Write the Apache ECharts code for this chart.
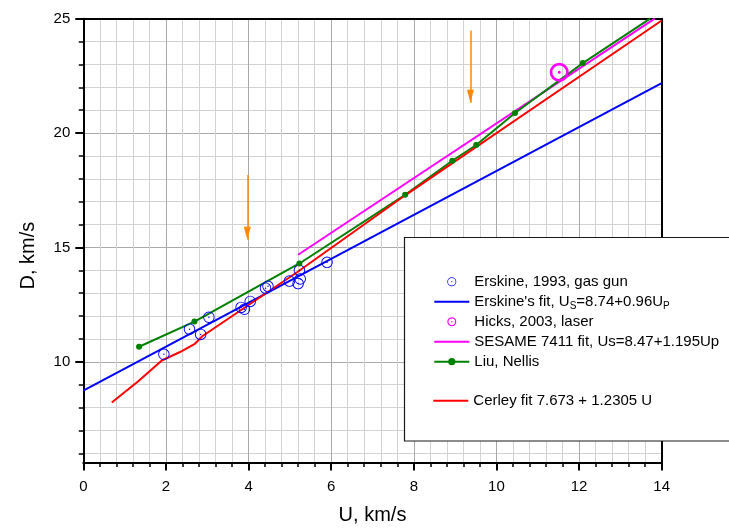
<!DOCTYPE html>
<html>
<head>
<meta charset="utf-8">
<script src="https://cdn.jsdelivr.net/npm/echarts@6/dist/echarts.min.js"></script>
<style>
  html, body { margin: 0; padding: 0; background: #fff; }
  #chart { width: 729px; height: 529px; }
</style>
</head>
<body>
<div id="chart"></div>
<script>
// Shock velocity D versus particle velocity U
const erskineU = [1.95, 2.57, 2.84, 3.04, 3.82, 3.9, 4.04, 4.41, 4.47, 4.99, 5.2, 5.23, 5.25, 5.9];
const erskineD = [10.33, 11.43, 11.2, 11.95, 12.38, 12.3, 12.64, 13.22, 13.3, 13.53, 13.42, 14.0, 13.62, 14.35];

const erskineFitU = [0, 14];
const erskineFitD = [8.74, 22.18];

const hicksU = [11.52];
const hicksD = [22.66];

const sesameU = [5.2, 13.83];
const sesameD = [14.68, 25.0];

const liuU = [1.35, 2.69, 5.23, 7.79, 8.93, 9.51, 10.45, 12.09, 13.72];
const liuD = [10.66, 11.76, 14.3, 17.3, 18.79, 19.48, 20.88, 23.06, 25.0];

const cerleyU = [0.69, 1.33, 1.9, 2.34, 2.7, 2.88, 5.2, 7.79, 14];
const cerleyD = [8.22, 9.15, 10.06, 10.43, 10.79, 11.12, 13.95, 17.28, 24.92];

// orange arrows: x position, tail and tip
const arrowU = [3.97, 9.37];
const arrowTail = [18.17, 24.48];
const arrowTip = [15.34, 21.33];

const xTickLabels = [0, 2, 4, 6, 8, 10, 12, 14];
const yTickLabels = [10, 15, 20, 25];
const yMinorTicks = [6, 7, 8, 9, 10, 11, 12, 13, 14, 15, 16, 17, 18, 19, 20, 21, 22, 23, 24, 25];

const names = {
  erskine: 'Erskine, 1993, gas gun',
  erskineFit: "Erskine's fit, US=8.74+0.96UP",
  hicks: 'Hicks, 2003, laser',
  sesame: 'SESAME 7411 fit, Us=8.47+1.195Up',
  liu: 'Liu, Nellis',
  cerley: 'Cerley fit 7.673 + 1.2305 U'
};

const FONT = '"Liberation Sans", Arial, sans-serif';

const zip = (xs, ys) => xs.map((x, i) => [x, ys[i]]);

// open ring with a centre dot
const ringThin = 'path://M0,10A10,10 0 1,1 20,10A10,10 0 1,1 0,10Z M1.6,10A8.4,8.4 0 1,0 18.4,10A8.4,8.4 0 1,0 1.6,10Z M8.7,10A1.3,1.3 0 1,1 11.3,10A1.3,1.3 0 1,1 8.7,10Z';
const ringThick = 'path://M0,10A10,10 0 1,1 20,10A10,10 0 1,1 0,10Z M2.8,10A7.2,7.2 0 1,0 17.2,10A7.2,7.2 0 1,0 2.8,10Z M8.4,10A1.6,1.6 0 1,1 11.6,10A1.6,1.6 0 1,1 8.4,10Z';
// plain stroke used as the legend key of the fitted lines
const lineKey = 'path://M0,0L35,0L35,2L0,2Z';

const arrowLines = arrowU.map((u, i) => [
  { coord: [u, arrowTail[i]] },
  { coord: [u, arrowTip[i]] }
]);

const chart = echarts.init(document.getElementById('chart'), null, { renderer: 'canvas' });

const legendText = {
  fontFamily: FONT,
  fontSize: 15,
  color: '#000',
  lineHeight: 20,
  rich: {
    m: { fontFamily: FONT, fontSize: 15, lineHeight: 20, color: '#000' },
    s: { fontFamily: FONT, fontSize: 10, lineHeight: 8, verticalAlign: 'bottom', color: '#000' }
  }
};

const option = {
  animation: false,
  backgroundColor: '#fff',
  grid: {
    left: 83.3, right: 67.3, top: 18.7, bottom: 66.5,
    containLabel: false,
    outerBoundsMode: 'none'
  },
  xAxis: [
    {
      type: 'value', position: 'bottom', min: 0, max: 14, interval: 2,
      name: 'U, km/s', nameLocation: 'middle', nameGap: 43,
      nameTextStyle: { fontFamily: FONT, fontSize: 20, color: '#000' },
      axisLine: { show: true, onZero: false, lineStyle: { color: '#000', width: 2 } },
      axisTick: { show: true, inside: false, length: 8, lineStyle: { color: '#000', width: 2 } },
      minorTick: { show: true, splitNumber: 5, length: 4.5, lineStyle: { color: '#000', width: 1.5 } },
      axisLabel: {
        show: true, margin: 17, fontFamily: FONT, fontSize: 15, color: '#000',
        customValues: xTickLabels
      },
      splitLine: { show: true, lineStyle: { color: '#a9a9a9', width: 1 } },
      minorSplitLine: { show: true, lineStyle: { color: '#d3d3d3', width: 1 } }
    },
    {
      type: 'value', position: 'top', min: 0, max: 14, interval: 2,
      axisLine: { show: true, onZero: false, lineStyle: { color: '#000', width: 2 } },
      axisTick: { show: false }, axisLabel: { show: false }, splitLine: { show: false }
    }
  ],
  yAxis: [
    {
      type: 'value', position: 'left', min: 5.6, max: 25,
      name: 'D, km/s', nameLocation: 'middle', nameGap: 45,
      nameTextStyle: { fontFamily: FONT, fontSize: 20, color: '#000', padding: [0, 30, 0, 0] },
      axisLine: { show: true, onZero: false, lineStyle: { color: '#000', width: 2 } },
      axisTick: { show: true, inside: false, length: 4.5, customValues: yMinorTicks, lineStyle: { color: '#000', width: 1.5 } },
      axisLabel: {
        show: true, margin: 13, fontFamily: FONT, fontSize: 15, color: '#000',
        customValues: yTickLabels
      },
      splitLine: { show: true, lineStyle: { color: '#d3d3d3', width: 1 } }
    },
    {
      type: 'value', position: 'left', min: 5.6, max: 25,
      axisLine: { show: false },
      axisTick: { show: true, inside: false, length: 8, customValues: yTickLabels, lineStyle: { color: '#000', width: 2 } },
      axisLabel: { show: false },
      splitLine: { show: true, lineStyle: { color: '#a9a9a9', width: 1 } }
    },
    {
      type: 'value', position: 'right', min: 5.6, max: 25,
      axisLine: { show: true, onZero: false, lineStyle: { color: '#000', width: 2 } },
      axisTick: { show: false }, axisLabel: { show: false }, splitLine: { show: false }
    }
  ],
  legend: [
    {
      orient: 'vertical', left: 433.3, top: 271.7, padding: 0, itemGap: 0,
      itemWidth: 35, itemHeight: 9, selectedMode: false, z: 100,
      data: [
        names.erskine,
        { name: names.erskineFit, icon: lineKey },
        names.hicks,
        { name: names.sesame, icon: lineKey },
        names.liu
      ],
      textStyle: legendText,
      formatter: function (name) {
        if (name === names.erskineFit) {
          return "{m|Erskine's fit, U}{s|S}{m|=8.74+0.96U}{s|P}";
        }
        return name;
      }
    },
    {
      orient: 'vertical', left: 433.3, top: 390.7, padding: 0, itemGap: 0,
      itemWidth: 35, itemHeight: 9, selectedMode: false, z: 100,
      data: [{ name: names.cerley, icon: lineKey }],
      textStyle: legendText
    }
  ],
  graphic: [
    {
      type: 'rect', z: 50, silent: true,
      shape: { x: 404.5, y: 237.5, width: 400, height: 203.5 },
      style: { fill: '#fff', stroke: '#1a1a1a', lineWidth: 1.2 }
    }
  ],
  series: [
    {
      name: names.erskine, type: 'scatter', data: zip(erskineU, erskineD),
      symbol: ringThin, symbolSize: 11.5, symbolKeepAspect: true,
      itemStyle: { color: '#0000ff', opacity: 1 }, z: 3, silent: true
    },
    {
      name: names.erskineFit, type: 'line', data: zip(erskineFitU, erskineFitD),
      showSymbol: false, symbol: 'none',
      lineStyle: { color: '#0000ff', width: 2 }, itemStyle: { color: '#0000ff' }, silent: true
    },
    {
      name: names.hicks, type: 'scatter', data: zip(hicksU, hicksD),
      symbol: ringThick, symbolSize: 19, symbolKeepAspect: true,
      itemStyle: { color: '#ff00ff', opacity: 1 }, z: 3, silent: true
    },
    {
      name: names.sesame, type: 'line', data: zip(sesameU, sesameD),
      showSymbol: false, symbol: 'none',
      lineStyle: { color: '#ff00ff', width: 2 }, itemStyle: { color: '#ff00ff' }, silent: true
    },
    {
      name: names.liu, type: 'line',
      data: zip(liuU, liuD).map((p, i) => (i === liuU.length - 1 ? { value: p, symbol: 'none' } : p)),
      symbol: 'circle', symbolSize: 6, showSymbol: true,
      lineStyle: { color: '#008000', width: 2 }, itemStyle: { color: '#008000' }, silent: true
    },
    {
      name: names.cerley, type: 'line', data: zip(cerleyU, cerleyD),
      showSymbol: false, symbol: 'none',
      lineStyle: { color: '#ff0000', width: 2 }, itemStyle: { color: '#ff0000' }, silent: true,
      markLine: {
        silent: true, animation: false,
        symbol: ['none', 'triangle'], symbolSize: [7, 13], symbolOffset: [0, [0, 6.5]],
        label: { show: false },
        lineStyle: { color: '#ff8a00', width: 1.5, type: 'solid' },
        emphasis: { disabled: true },
        data: arrowLines
      }
    }
  ]
};

chart.setOption(option);
</script>
</body>
</html>
